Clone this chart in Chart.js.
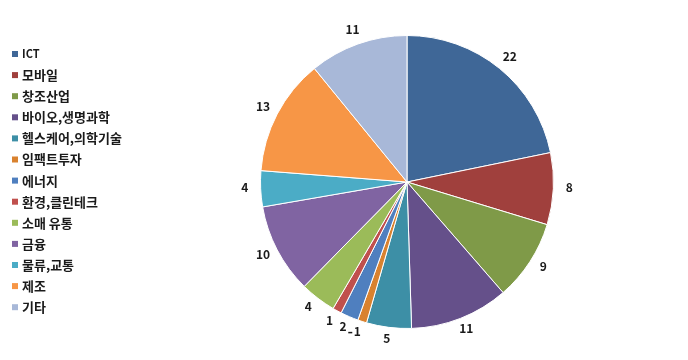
<!DOCTYPE html>
<html>
<head>
<meta charset="utf-8">
<script src="https://cdn.jsdelivr.net/npm/chart.js@4/dist/chart.umd.min.js"></script>
<style>
  html, body { margin: 0; padding: 0; background: #fff; }
  #wrap { width: 688px; height: 360px; position: relative; }
</style>
</head>
<body>
<div id="wrap"><canvas id="pieChart"></canvas></div>
<script>
const categories = ['ICT', '모바일', '창조산업', '바이오,생명과학', '헬스케어,의학기술', '임팩트투자', '에너지',
    '환경,클린테크', '소매 유통', '금융', '물류,교통', '제조', '기타'];
const counts = [22, 8, 9, 11, 5, 1, 2, 1, 4, 10, 4, 13, 11];
const colors = ['#3f6797', '#a0403d', '#7f9a48', '#65508a', '#3d8fa6', '#d9822f', '#4f7fbf',
    '#c0504d', '#9bbb59', '#8064a2', '#4bacc6', '#f79646', '#a8b8d8'];

const FONT = "'Noto Sans CJK KR', 'Noto Sans', sans-serif";

// legend on the left, drawn by hand
const sideLegend = {
    id: 'sideLegend',
    afterDraw(chart) {
        const ctx = chart.ctx;
        ctx.save();
        ctx.textBaseline = 'middle';
        ctx.textAlign = 'left';
        chart.data.labels.forEach((label, i) => {
            const y = 54 + i * 21.1;
            ctx.fillStyle = chart.data.datasets[0].backgroundColor[i];
            ctx.fillRect(12, y - 3, 6, 6);
            ctx.fillStyle = '#1a1a1a';
            ctx.font = (label === 'ICT' ? 'bold 11px ' : 'bold 13px ') + FONT;
            ctx.fillText(label, 22, y);
        });
        ctx.restore();
    }
};

// value labels outside each slice
const outsideLabels = {
    id: 'outsideLabels',
    afterDatasetsDraw(chart) {
        const ctx = chart.ctx;
        const meta = chart.getDatasetMeta(0);
        ctx.save();
        ctx.font = 'bold 12px ' + FONT;
        ctx.fillStyle = '#1a1a1a';
        ctx.textAlign = 'center';
        ctx.textBaseline = 'middle';
        meta.data.forEach((arc, i) => {
            const p = arc.getProps(['x', 'y', 'startAngle', 'endAngle', 'outerRadius'], true);
            const mid = (p.startAngle + p.endAngle) / 2;
            const r = p.outerRadius + 13;
            const x = p.x + Math.cos(mid) * (r + 3);
            const y = p.y + Math.sin(mid) * r - 2;
            ctx.fillText(counts[i], x, y);
            if (i === 5) {
                // small leader mark next to the thin slice
                ctx.fillRect(x - 9, y, 4, 1.5);
            }
        });
        ctx.restore();
    }
};

new Chart(document.getElementById('pieChart'), {
    type: 'pie',
    data: {
        labels: categories,
        datasets: [{
            data: counts,
            backgroundColor: colors,
            borderColor: '#ffffff',
            borderWidth: 1
        }]
    },
    options: {
        responsive: true,
        maintainAspectRatio: false,
        animation: false,
        layout: {
            padding: { left: 260, right: 134, top: 35, bottom: 31 }
        },
        plugins: {
            legend: { display: false },
            tooltip: { enabled: false }
        }
    },
    plugins: [sideLegend, outsideLabels]
});
</script>
</body>
</html>
